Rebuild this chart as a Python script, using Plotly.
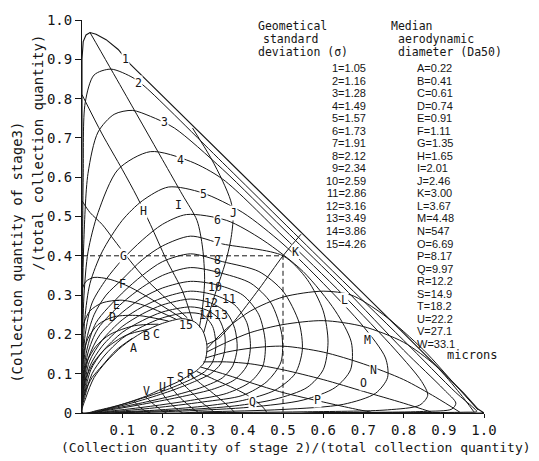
import plotly.graph_objects as go

# ---------------- legend / table values ----------------
sigma_ids = ["1", "2", "3", "4", "5", "6", "7", "8", "9", "10", "11", "12", "13", "14", "15"]
sigma_vals = ["1.05", "1.16", "1.28", "1.49", "1.57", "1.73", "1.91", "2.12", "2.34", "2.59",
              "2.86", "3.16", "3.49", "3.86", "4.26"]
da_ids = list("ABCDEFGHIJKLMNOPQRSTUVW")
da_vals = ["0.22", "0.41", "0.61", "0.74", "0.91", "1.11", "1.35", "1.65", "2.01", "2.46", "3.00",
           "3.67", "4.48", "547", "6.69", "8.17", "9.97", "12.2", "14.9", "18.2", "22.2", "27.1", "33.1"]

x_ticks = [0.1, 0.2, 0.3, 0.4, 0.5, 0.6, 0.7, 0.8, 0.9, 1.0]
x_ticktext = ["0.1", "0.2", "0.3", "0.4", "0.5", "0.6", "0.7", "0.8", "0.9", "1.0"]
y_ticks = [0, 0.1, 0.2, 0.3, 0.4, 0.5, 0.6, 0.7, 0.8, 0.9, 1.0]
y_ticktext = ["0", "0.1", "0.2", "0.3", "0.4", "0.5", "0.6", "0.7", "0.8", "0.9", "1.0"]

# ---------------- geometric standard deviation curves ----------------
s1_x = [0, 0, 0.003, 0.01, 0.02, 0.035, 0.06, 0.09, 0.12, 0.35, 0.6, 0.8, 0.95, 0.985, 1.0, 0.5, 0]
s1_y = [0, 0.9, 0.945, 0.962, 0.968, 0.964, 0.95, 0.925, 0.888, 0.657, 0.405, 0.203, 0.05, 0.01, 0, 0, 0]
s2_x = [0, 0.001, 0.003, 0.008, 0.03, 0.072, 0.127, 0.157, 0.35, 0.6, 0.8, 0.93, 0.972, 0.982, 0.95, 0.6, 0]
s2_y = [0, 0.3, 0.6, 0.79, 0.86, 0.875, 0.853, 0.83, 0.637, 0.385, 0.185, 0.052, 0.015, 0.004, 0.002, 0.001, 0]
s3_x = [0, 0.001, 0.004, 0.015, 0.04, 0.08, 0.125, 0.17, 0.23, 0.35, 0.5, 0.65, 0.8, 0.9, 0.93, 0.92, 0.85, 0.6, 0]
s3_y = [0, 0.2, 0.42, 0.61, 0.715, 0.76, 0.77, 0.755, 0.725, 0.62, 0.47, 0.32, 0.16, 0.06, 0.025, 0.01, 0.004, 0.001, 0]
s4_x = [0, 0.001, 0.005, 0.015, 0.04, 0.09, 0.17, 0.27, 0.35, 0.5, 0.65, 0.78, 0.845, 0.86, 0.84, 0.76, 0.55, 0.3, 0]
s4_y = [0, 0.15, 0.3, 0.41, 0.51, 0.62, 0.665, 0.64, 0.595, 0.45, 0.3, 0.16, 0.08, 0.045, 0.02, 0.008, 0.003, 0.001, 0]
s5_x = [0, 0.002, 0.007, 0.02, 0.05, 0.1, 0.15, 0.215, 0.3, 0.4, 0.5, 0.6, 0.7, 0.755, 0.76, 0.73, 0.65, 0.5, 0.3, 0]
s5_y = [0, 0.12, 0.24, 0.33, 0.41, 0.49, 0.54, 0.575, 0.56, 0.51, 0.43, 0.33, 0.22, 0.14, 0.09, 0.05, 0.022, 0.009, 0.003, 0]
s6_x = [0, 0.002, 0.008, 0.025, 0.06, 0.1, 0.15, 0.2, 0.26, 0.36, 0.45, 0.55, 0.63, 0.67, 0.668, 0.63, 0.55, 0.42, 0.25, 0.1, 0]
s6_y = [0, 0.1, 0.2, 0.28, 0.34, 0.39, 0.44, 0.48, 0.505, 0.49, 0.44, 0.36, 0.26, 0.18, 0.11, 0.065, 0.033, 0.015, 0.005, 0.001, 0]
s7_x = [0, 0.003, 0.01, 0.03, 0.06, 0.1, 0.15, 0.2, 0.27, 0.35, 0.5, 0.56, 0.6, 0.612, 0.6, 0.56, 0.48, 0.38, 0.25, 0.1, 0]
s7_y = [0, 0.09, 0.18, 0.25, 0.3, 0.34, 0.39, 0.425, 0.45, 0.43, 0.4, 0.34, 0.26, 0.18, 0.11, 0.065, 0.035, 0.018, 0.008, 0.002, 0]
s8_x = [0, 0.003, 0.012, 0.035, 0.1, 0.15, 0.2, 0.27, 0.35, 0.44, 0.5, 0.54, 0.548, 0.53, 0.48, 0.4, 0.3, 0.18, 0.07, 0]
s8_y = [0, 0.08, 0.16, 0.23, 0.305, 0.35, 0.385, 0.405, 0.385, 0.36, 0.31, 0.23, 0.16, 0.1, 0.058, 0.032, 0.017, 0.007, 0.002, 0]
s9_x = [0, 0.004, 0.014, 0.04, 0.1, 0.15, 0.2, 0.27, 0.35, 0.42, 0.47, 0.497, 0.495, 0.46, 0.4, 0.3, 0.18, 0.07, 0]
s9_y = [0, 0.07, 0.15, 0.215, 0.28, 0.32, 0.35, 0.37, 0.355, 0.33, 0.28, 0.2, 0.13, 0.08, 0.045, 0.028, 0.013, 0.003, 0]
s10_x = [0, 0.004, 0.016, 0.045, 0.1, 0.15, 0.2, 0.27, 0.34, 0.4, 0.44, 0.456, 0.45, 0.42, 0.36, 0.27, 0.17, 0.07, 0]
s10_y = [0, 0.065, 0.14, 0.2, 0.256, 0.293, 0.318, 0.335, 0.325, 0.3, 0.25, 0.18, 0.12, 0.08, 0.05, 0.032, 0.017, 0.005, 0]
s11_x = [0, 0.005, 0.018, 0.05, 0.1, 0.15, 0.2, 0.27, 0.33, 0.38, 0.41, 0.419, 0.41, 0.38, 0.33, 0.25, 0.16, 0.07, 0]
s11_y = [0, 0.06, 0.13, 0.185, 0.237, 0.27, 0.293, 0.31, 0.3, 0.275, 0.23, 0.17, 0.12, 0.085, 0.062, 0.042, 0.024, 0.008, 0]
s12_x = [0, 0.006, 0.02, 0.05, 0.1, 0.15, 0.2, 0.27, 0.32, 0.36, 0.38, 0.386, 0.375, 0.35, 0.3, 0.23, 0.15, 0.07, 0]
s12_y = [0, 0.055, 0.12, 0.17, 0.22, 0.252, 0.275, 0.29, 0.28, 0.255, 0.215, 0.165, 0.12, 0.09, 0.066, 0.045, 0.026, 0.01, 0]
s13_x = [0, 0.007, 0.022, 0.05, 0.1, 0.15, 0.2, 0.27, 0.31, 0.34, 0.355, 0.355, 0.345, 0.32, 0.28, 0.22, 0.15, 0.08, 0]
s13_y = [0, 0.05, 0.11, 0.155, 0.205, 0.235, 0.257, 0.27, 0.262, 0.24, 0.2, 0.16, 0.125, 0.1, 0.08, 0.056, 0.033, 0.014, 0]
s14_x = [0, 0.008, 0.025, 0.055, 0.1, 0.15, 0.2, 0.26, 0.3, 0.325, 0.333, 0.325, 0.305, 0.27, 0.2, 0.1, 0.04, 0]
s14_y = [0, 0.045, 0.1, 0.145, 0.19, 0.22, 0.242, 0.255, 0.25, 0.22, 0.17, 0.13, 0.105, 0.085, 0.055, 0.022, 0.007, 0]
s15_x = [0, 0.01, 0.03, 0.06, 0.1, 0.15, 0.2, 0.25, 0.28, 0.3, 0.311, 0.305, 0.285, 0.265, 0.24, 0.2, 0.157, 0.1, 0.05, 0]
s15_y = [0, 0.04, 0.09, 0.13, 0.17, 0.205, 0.228, 0.24, 0.232, 0.21, 0.17, 0.13, 0.108, 0.095, 0.08, 0.062, 0.042, 0.022, 0.008, 0]

# ---------------- median aerodynamic diameter curves ----------------
dA_x = [0, 0.003, 0.01, 0.025, 0.05, 0.085, 0.125]
dA_y = [0.02, 0.04, 0.06, 0.09, 0.12, 0.16, 0.19]
dB_x = [0, 0.003, 0.01, 0.03, 0.06, 0.11, 0.165]
dB_y = [0.035, 0.06, 0.09, 0.13, 0.165, 0.198, 0.213]
dC_x = [0, 0.003, 0.012, 0.035, 0.07, 0.13, 0.19]
dC_y = [0.06, 0.09, 0.13, 0.17, 0.2, 0.222, 0.226]
dD_x = [0, 0.004, 0.015, 0.04, 0.08, 0.14, 0.215]
dD_y = [0.11, 0.15, 0.19, 0.225, 0.245, 0.248, 0.234]
dE_x = [0, 0.005, 0.02, 0.05, 0.1, 0.16, 0.235]
dE_y = [0.2, 0.23, 0.26, 0.28, 0.287, 0.272, 0.238]
dF_x = [0, 0.01, 0.03, 0.07, 0.12, 0.18, 0.25]
dF_y = [0.315, 0.335, 0.345, 0.34, 0.32, 0.285, 0.24]
dG_x = [0, 0.02, 0.05, 0.08, 0.11, 0.15, 0.2, 0.262]
dG_y = [0.54, 0.51, 0.48, 0.44, 0.4, 0.35, 0.3, 0.242]
dH_x = [0, 0.05, 0.1, 0.137, 0.17, 0.21, 0.25, 0.275]
dH_y = [0.81, 0.71, 0.62, 0.55, 0.48, 0.39, 0.31, 0.235]
dI_x = [0.02, 0.1, 0.2, 0.25, 0.286, 0.3, 0.305, 0.3, 0.292]
dI_y = [0.968, 0.825, 0.645, 0.555, 0.49, 0.42, 0.34, 0.27, 0.218]
dJ_x = [0.275, 0.32, 0.35, 0.37, 0.376, 0.37, 0.356, 0.335, 0.318, 0.303]
dJ_y = [0.725, 0.65, 0.59, 0.54, 0.5, 0.44, 0.38, 0.315, 0.26, 0.205]
dK_x = [0.545, 0.5, 0.44, 0.38, 0.34, 0.311]
dK_y = [0.455, 0.4, 0.315, 0.235, 0.19, 0.175]
dL_x = [0.985, 0.93, 0.85, 0.75, 0.67, 0.6, 0.5, 0.42, 0.36, 0.312]
dL_y = [0.008, 0.07, 0.16, 0.25, 0.3, 0.31, 0.295, 0.26, 0.215, 0.165]
dM_x = [0.975, 0.94, 0.88, 0.8, 0.7, 0.6, 0.5, 0.42, 0.36, 0.31]
dM_y = [0.003, 0.05, 0.12, 0.18, 0.22, 0.235, 0.225, 0.205, 0.18, 0.155]
dN_x = [0.94, 0.88, 0.8, 0.7, 0.6, 0.5, 0.42, 0.36, 0.307]
dN_y = [0.002, 0.04, 0.085, 0.125, 0.155, 0.17, 0.165, 0.155, 0.14]
dO_x = [0.87, 0.8, 0.7, 0.6, 0.5, 0.42, 0.36, 0.302]
dO_y = [0.002, 0.025, 0.055, 0.085, 0.11, 0.125, 0.13, 0.13]
dP_x = [0.72, 0.68, 0.6, 0.5, 0.42, 0.36, 0.295]
dP_y = [0.002, 0.01, 0.028, 0.052, 0.077, 0.097, 0.117]
dQ_x = [0.46, 0.45, 0.42, 0.38, 0.33, 0.285]
dQ_y = [0.001, 0.015, 0.04, 0.062, 0.085, 0.106]
dR_x = [0.38, 0.37, 0.35, 0.32, 0.295, 0.27]
dR_y = [0.001, 0.012, 0.03, 0.055, 0.075, 0.097]
dS_x = [0.33, 0.32, 0.3, 0.28, 0.26, 0.243]
dS_y = [0.001, 0.01, 0.025, 0.045, 0.065, 0.082]
dT_x = [0.29, 0.28, 0.265, 0.245, 0.23, 0.218]
dT_y = [0.001, 0.008, 0.02, 0.038, 0.055, 0.07]
dU_x = [0.25, 0.24, 0.23, 0.215, 0.203, 0.195]
dU_y = [0.001, 0.006, 0.015, 0.03, 0.045, 0.058]
dV_x = [0.21, 0.2, 0.19, 0.175, 0.165, 0.157]
dV_y = [0.001, 0.005, 0.013, 0.025, 0.035, 0.042]
dW_x = [0.17, 0.16, 0.15, 0.138, 0.13]
dW_y = [0.0, 0.004, 0.01, 0.02, 0.03]

# label positions of curves (data coords)
sig_lab_x = [0.107, 0.14, 0.206, 0.246, 0.301, 0.336, 0.336, 0.338, 0.338, 0.331, 0.365, 0.32, 0.345, 0.308, 0.259]
sig_lab_y = [0.9, 0.84, 0.74, 0.645, 0.557, 0.49, 0.435, 0.39, 0.355, 0.32, 0.29, 0.28, 0.25, 0.25, 0.225]
da_lab_ids = list("ABCDEFGHIJKLMNOPQRSTUV")
da_lab_x = [0.127, 0.16, 0.186, 0.077, 0.087, 0.1, 0.102, 0.152, 0.24, 0.376, 0.53, 0.654, 0.71, 0.725,
            0.7, 0.585, 0.425, 0.27, 0.245, 0.22, 0.2, 0.16]
da_lab_y = [0.165, 0.195, 0.2, 0.245, 0.275, 0.3275, 0.4, 0.515, 0.53, 0.51, 0.41, 0.2875, 0.185, 0.11,
            0.077, 0.033, 0.028, 0.1, 0.092, 0.078, 0.067, 0.055]
# labels drawn with a small white gap cut into the line (as in the original)
gap_labels = set(["1", "2", "3", "4", "5", "6", "7", "G", "H", "J", "K", "L", "M", "N", "O", "P", "Q"])

# example reading (dashed guide)
guide_x = [0.0, 0.5, 0.5]
guide_y = [0.4, 0.4, 0.0]

sigma_curves = [(s1_x, s1_y), (s2_x, s2_y), (s3_x, s3_y), (s4_x, s4_y), (s5_x, s5_y), (s6_x, s6_y),
                (s7_x, s7_y), (s8_x, s8_y), (s9_x, s9_y), (s10_x, s10_y), (s11_x, s11_y), (s12_x, s12_y),
                (s13_x, s13_y), (s14_x, s14_y), (s15_x, s15_y)]
da_curves = [(dA_x, dA_y), (dB_x, dB_y), (dC_x, dC_y), (dD_x, dD_y), (dE_x, dE_y), (dF_x, dF_y),
             (dG_x, dG_y), (dH_x, dH_y), (dI_x, dI_y), (dJ_x, dJ_y), (dK_x, dK_y), (dL_x, dL_y),
             (dM_x, dM_y), (dN_x, dN_y), (dO_x, dO_y), (dP_x, dP_y), (dQ_x, dQ_y), (dR_x, dR_y),
             (dS_x, dS_y), (dT_x, dT_y), (dU_x, dU_y), (dV_x, dV_y), (dW_x, dW_y)]

INK = "#151515"
MONO = "DejaVu Sans Mono, monospace"
NARROW = "Liberation Sans, Arial, sans-serif"

W, H = 539, 461
L, R, T, B = 82, 55, 13, 48

fig = go.Figure()

for i, (xs, ys) in enumerate(sigma_curves):
    if i == 0:
        line = dict(color=INK, width=1.1, shape="linear")
    else:
        line = dict(color=INK, width=1.0, shape="spline", smoothing=0.8)
    fig.add_trace(go.Scatter(x=xs, y=ys, mode="lines", line=line, hoverinfo="skip", showlegend=False))

for xs, ys in da_curves:
    fig.add_trace(go.Scatter(x=xs, y=ys, mode="lines",
                             line=dict(color=INK, width=1.0, shape="spline", smoothing=0.8),
                             hoverinfo="skip", showlegend=False))

fig.add_trace(go.Scatter(x=guide_x, y=guide_y, mode="lines",
                         line=dict(color=INK, width=1.0, dash="5px,3px"),
                         hoverinfo="skip", showlegend=False))

ann = []
for t, x, y in zip(sigma_ids + da_lab_ids, sig_lab_x + da_lab_x, sig_lab_y + da_lab_y):
    a = dict(x=x, y=y, xref="x", yref="y", text=t, showarrow=False, borderpad=0,
             font=dict(family=MONO, size=11.5, color=INK))
    if t in gap_labels:
        a["bgcolor"] = "white"
    ann.append(a)


def px(p):
    return (p - L) / (W - L - R)


def py(p):
    return (H - B - p) / (H - T - B)


# headers
hdr_font = dict(family=MONO, size=11.5, color=INK)
for text, x0, y0 in [("Geometical", 257, 19), ("standard", 262, 32.5), ("deviation (σ)", 257, 46),
                     ("Median", 390, 19), ("aerodynamic", 397, 32.5), ("diameter (Da50)", 397, 46)]:
    ann.append(dict(x=px(x0), y=py(y0), xref="paper", yref="paper", text=text, showarrow=False,
                    xanchor="left", yanchor="middle", borderpad=0, font=hdr_font))

lst_font = dict(family=NARROW, size=11, color=INK)
for k, (sid, sv) in enumerate(zip(sigma_ids, sigma_vals)):
    ann.append(dict(x=px(367), y=py(62 + k * 12.75), xref="paper", yref="paper", borderpad=0,
                    text=f"{sid}={sv}", showarrow=False, xanchor="right", yanchor="middle", font=lst_font))
for k, (did, dv) in enumerate(zip(da_ids, da_vals)):
    ann.append(dict(x=px(416), y=py(62 + k * 12.75), xref="paper", yref="paper", borderpad=0,
                    text=f"{did}={dv}", showarrow=False, xanchor="left", yanchor="middle", font=lst_font))
ann.append(dict(x=px(446), y=py(354), xref="paper", yref="paper", text="microns", showarrow=False,
                xanchor="left", yanchor="middle", borderpad=0, font=dict(family=MONO, size=12, color=INK)))

# axis titles
ann.append(dict(x=px(296), y=py(448), xref="paper", yref="paper",
                text="(Collection quantity of stage 2)/(total collection quantity)", showarrow=False,
                xanchor="center", yanchor="middle", font=dict(family=MONO, size=13, color=INK)))
ann.append(dict(x=px(17), y=py(250), xref="paper", yref="paper", textangle=-90,
                text="(Collection quantity of stage3)", showarrow=False,
                xanchor="center", yanchor="middle", font=dict(family=MONO, size=14, color=INK)))
ann.append(dict(x=px(38), y=py(148), xref="paper", yref="paper", textangle=-90,
                text="/(total collection quantity)", showarrow=False,
                xanchor="center", yanchor="middle", font=dict(family=MONO, size=14, color=INK)))

fig.update_layout(
    width=W, height=H,
    margin=dict(l=L, r=R, t=T, b=B, pad=0),
    paper_bgcolor="white", plot_bgcolor="white",
    showlegend=False,
    annotations=ann,
    xaxis=dict(range=[0, 1], tickvals=x_ticks, ticktext=x_ticktext, ticks="outside", ticklen=4,
               tickcolor=INK, showline=True, linecolor=INK, linewidth=1, showgrid=False, zeroline=False,
               tickfont=dict(family=MONO, size=14, color=INK), fixedrange=True),
    yaxis=dict(range=[0, 1], tickvals=y_ticks, ticktext=y_ticktext, ticks="outside", ticklen=6,
               tickcolor=INK, showline=True, linecolor=INK, linewidth=1, showgrid=False, zeroline=False,
               tickfont=dict(family=MONO, size=14, color=INK), fixedrange=True),
)

fig.write_html("out.html")
